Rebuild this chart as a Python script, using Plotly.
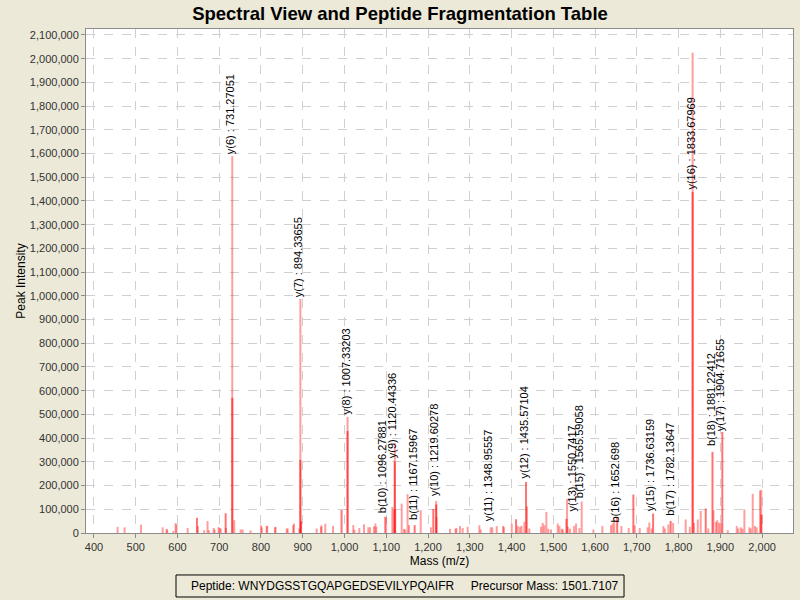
import plotly.graph_objects as go

# peak list (m/z, intensity)
light_mz = [456.7, 473.5, 512.6, 564.5, 574.0, 575.5, 590.0, 595.6, 597.6, 624.4,
            649.0, 664.0, 672.0, 675.0, 686.7, 689.0, 698.6, 701.0, 703.6, 716.0,
            731.27, 736.0, 751.3, 756.0, 775.0, 800.0, 802.0, 813.6, 815.0, 833.5,
            835.0, 861.5, 864.0, 877.0, 879.0, 891.7, 894.34, 933.4, 943.7, 945.0,
            954.0, 972.5, 1007.33, 1021.0, 1023.7, 1035.5, 1046.7, 1057.0, 1061.0,
            1070.6, 1074.0, 1076.0, 1097.0, 1099.7, 1114.5, 1118.0, 1120.44, 1121.5,
            1137.0, 1142.5, 1145.6, 1151.0, 1154.5, 1182.5, 1207.0, 1219.6, 1220.5,
            1252.7, 1266.0, 1268.0, 1276.6, 1283.0, 1295.0, 1323.0, 1326.0, 1350.0,
            1354.0, 1364.6, 1379.6, 1382.0, 1400.5, 1414.8, 1420.0, 1424.0, 1430.7,
            1437.0, 1442.7, 1470.7, 1474.7, 1478.7, 1483.4, 1488.0, 1494.5, 1510.6,
            1514.6, 1520.0, 1522.7, 1533.0, 1534.7, 1540.0, 1549.7, 1554.5, 1562.5,
            1568.0, 1596.0, 1617.5, 1638.0, 1642.0, 1646.0, 1663.0, 1680.6, 1695.0,
            1707.0, 1726.0, 1730.0, 1735.6, 1763.6, 1767.0, 1775.6, 1787.0, 1817.0,
            1827.0, 1833.68, 1837.0, 1846.0, 1853.0, 1871.0, 1883.6, 1889.6, 1892.8,
            1897.0, 1901.0, 1917.8, 1939.3, 1943.0, 1949.0, 1953.0, 1957.6, 1969.6,
            1972.8, 1977.6, 1983.0, 1987.0, 1995.0, 1998.0]
light_int = [26000, 24000, 35000, 24000, 17000, 14000, 8000, 42000, 36000, 21000,
             29000, 12000, 50000, 12000, 21000, 14000, 25000, 21000, 19000, 22000,
             1590000, 54000, 15000, 15000, 11000, 33000, 24000, 30000, 30000, 24000,
             26000, 19000, 19000, 33000, 40000, 19000, 987000, 19000, 26000, 33000,
             39000, 30000, 489000, 33000, 14000, 21000, 37000, 24000, 24000,
             28000, 40000, 26000, 67000, 68000, 110000, 96000, 380000, 99000,
             124000, 17000, 15000, 164000, 33000, 96000, 24000, 135000, 68000,
             18000, 18000, 21000, 30000, 21000, 26000, 33000, 15000, 24000,
             24000, 29000, 30000, 25000, 39000, 30000, 26000, 30000, 47000,
             112000, 19000, 26000, 43000, 33000, 89000, 18000, 15000, 40000,
             30000, 18000, 15000, 143000, 26000, 18000, 30000, 40000, 21000,
             133000, 15000, 29000, 33000, 40000, 57000, 29000, 21000, 33000,
             21000, 24000, 44000, 19000, 29000, 19000, 36000, 43000, 57000,
             26000, 2025000, 43000, 57000, 93000, 19000, 96000, 47000, 54000,
             43000, 40000, 12000, 29000, 19000, 24000, 18000, 99000, 24000,
             19000, 165000, 29000, 24000, 179000, 182000]

dark_mz = [646.7, 715.4, 731.27, 894.34, 896.0, 993.0, 1007.33, 1120.44, 1168.0,
           1212.7, 1219.6, 1410.8, 1434.7, 1531.5, 1653.0, 1691.7, 1739.0, 1781.0,
           1833.68, 1865.0, 1881.22, 1904.72, 1998.0]
dark_int = [64000, 83000, 570000, 308000, 50000, 97000, 430000, 300000, 33000,
            101000, 120000, 58000, 215000, 60000, 68000, 162000, 82000, 51000,
            1438000, 103000, 342000, 426000, 78000]

ion_labels = ["y(6) : 731.27051", "y(7) : 894.33655", "y(8) : 1007.33203",
              "b(10) : 1096.27881", "y(9) : 1120.44336", "b(11) : 1167.15967",
              "y(10) : 1219.60278", "y(11) : 1348.95557", "y(12) : 1435.57104",
              "y(13) : 1550.7417", "b(15) : 1565.59058", "b(16) : 1652.698",
              "y(15) : 1736.63159", "b(17) : 1782.13647", "y(16) : 1833.67969",
              "b(18) : 1881.22412", "y(17) : 1904.71655"]
ion_mz = [731.27051, 894.33655, 1007.33203, 1096.27881, 1120.44336, 1167.15967,
          1219.60278, 1348.95557, 1435.57104, 1550.7417, 1565.59058, 1652.698,
          1736.63159, 1782.13647, 1833.67969, 1881.22412, 1904.71655]
ion_int = [1590000, 987000, 489000, 76000, 308000, 46000, 148000, 42000, 223000,
           84000, 139000, 34000, 84000, 63000, 1438000, 358000, 422000]

peptide = "WNYDGSSTGQAPGEDSEVILYPQAIFR"
precursor_mz = 1501.7107


def stems(mz, inten):
    xs, ys = [], []
    for m, h in zip(mz, inten):
        xs += [m, m, None]
        ys += [0, h, None]
    return xs, ys


fig = go.Figure()
lx, ly = stems(light_mz, light_int)
fig.add_trace(go.Scatter(x=lx, y=ly, mode="lines", hoverinfo="skip",
                         line=dict(color="rgba(255,0,0,0.38)", width=2)))
dx, dy = stems(dark_mz, dark_int)
fig.add_trace(go.Scatter(x=dx, y=dy, mode="lines", hoverinfo="skip",
                         line=dict(color="rgba(255,0,0,0.55)", width=2)))

for lab, m, h in zip(ion_labels, ion_mz, ion_int):
    fig.add_annotation(x=m, y=h, text=lab, textangle=-90, showarrow=False,
                       xanchor="center", yanchor="bottom", xshift=-2,
                       font=dict(family="Liberation Sans", size=11, color="black"))

# fragmentation info box under the plot
fig.add_shape(type="rect", xref="paper", yref="paper", x0=0.1273, x1=0.761,
              y0=-0.127, y1=-0.0833, line=dict(color="black", width=1))
fig.add_annotation(xref="paper", yref="paper", x=0.451, y=-0.105, showarrow=False,
                   xanchor="center", yanchor="middle",
                   text="Peptide: " + peptide + "&nbsp;&nbsp;&nbsp;&nbsp;&nbsp;Precursor Mass: " + str(precursor_mz),
                   font=dict(family="Liberation Sans", size=12, color="black"))

axis_common = dict(showline=True, linecolor="#8c8c8c", linewidth=1, mirror=True,
                   ticks="outside", ticklen=4, tickcolor="#8c8c8c",
                   showgrid=True, gridcolor="#d0d0d0", griddash="dash", gridwidth=1,
                   zeroline=False, automargin=False,
                   tickfont=dict(family="Liberation Sans", size=11, color="#333333"))

fig.update_layout(
    width=800, height=600,
    paper_bgcolor="#ECE9D8", plot_bgcolor="white",
    margin=dict(l=86, r=7, t=29, b=67),
    showlegend=False,
    title=dict(text="<b>Spectral View and Peptide Fragmentation Table</b>",
               x=0.5, xanchor="center", y=0.978, yanchor="middle",
               font=dict(family="Liberation Sans", size=18.5, color="black")),
    xaxis=dict(range=[381, 2074], dtick=100, tick0=0, tickformat=",d",
               title=dict(text="Mass (m/z)", standoff=4,
                          font=dict(family="Liberation Sans", size=12, color="black")),
               **axis_common),
    yaxis=dict(range=[0, 2125000], dtick=100000, tick0=0, tickformat=",d",
               title=dict(text="Peak Intensity", standoff=1,
                          font=dict(family="Liberation Sans", size=12, color="black")),
               **axis_common),
)

fig.write_html("out.html", config={"displayModeBar": False},
               post_script="document.body.style.margin='0';")
